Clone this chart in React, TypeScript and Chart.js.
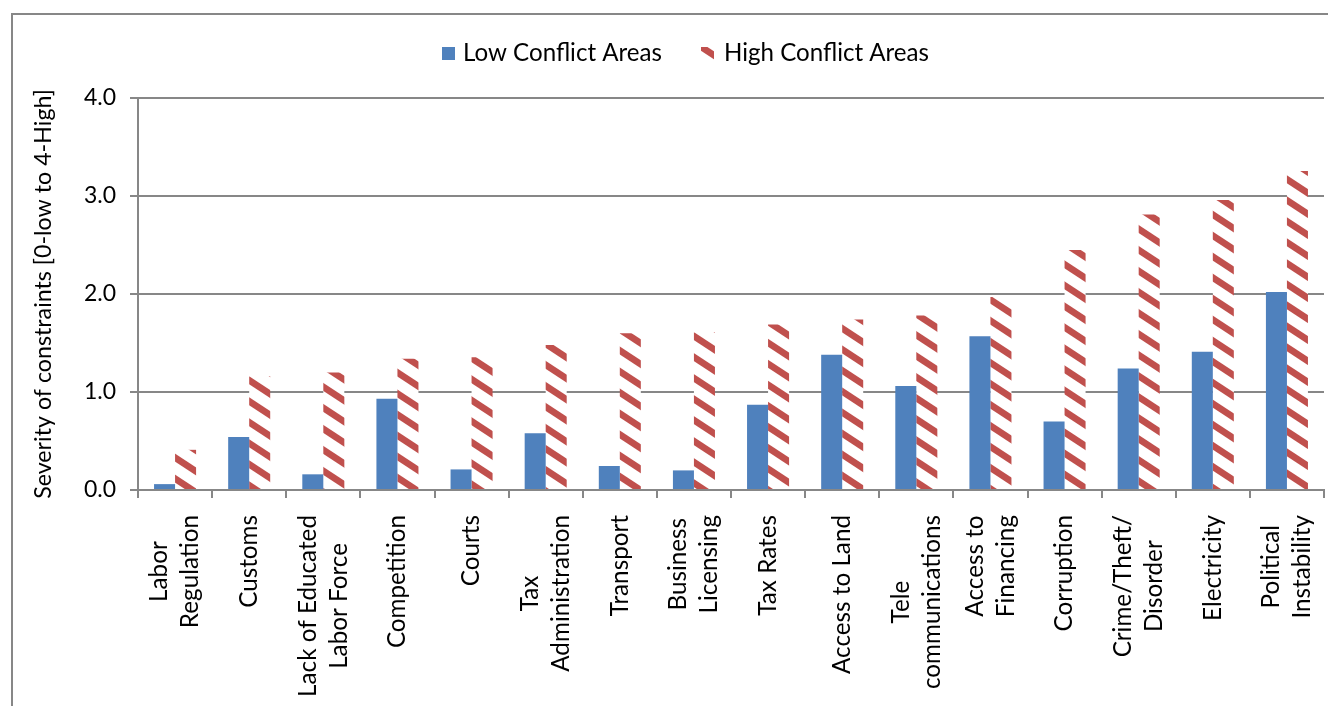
import React, { useEffect, useRef } from "react";
import { Chart, registerables } from "chart.js";

Chart.register(...registerables);

// ---- data ----
const categories: string[][] = [
  ["Labor", "Regulation"],
  ["Customs"],
  ["Lack of Educated", "Labor Force"],
  ["Competition"],
  ["Courts"],
  ["Tax", "Administration"],
  ["Transport"],
  ["Business", "Licensing"],
  ["Tax Rates"],
  ["Access to Land"],
  ["Tele", "communications"],
  ["Access to", "Financing"],
  ["Corruption"],
  ["Crime/Theft/", "Disorder"],
  ["Electricity"],
  ["Political", "Instability"],
];
const lowConflict = [0.06, 0.54, 0.16, 0.93, 0.21, 0.58, 0.245, 0.2, 0.87, 1.38, 1.06, 1.57, 0.7, 1.24, 1.41, 2.02];
const highConflict = [0.41, 1.16, 1.2, 1.34, 1.355, 1.48, 1.6, 1.61, 1.69, 1.74, 1.78, 1.97, 2.45, 2.81, 2.96, 3.255];
const seriesNames = ["Low Conflict Areas", "High Conflict Areas"];
const yTickLabels = ["0.0", "1.0", "2.0", "3.0", "4.0"];
const yAxisTitle = "Severity of constraints [0-low to 4-High]";

// ---- style ----
const BLUE = "#4F81BD";
const RED = "#C0504D";
const GRID = "#878787";
const FONT = "Lato";

function makeHatch(): CanvasPattern {
  const c = document.createElement("canvas");
  const w = 32, h = 21, t = 8;
  c.width = w;
  c.height = h;
  const g = c.getContext("2d")!;
  g.fillStyle = "#ffffff";
  g.fillRect(0, 0, w, h);
  g.fillStyle = RED;
  for (const dy of [-2 * h, -h, 0, h]) {
    g.beginPath();
    g.moveTo(0, dy);
    g.lineTo(w, dy + h);
    g.lineTo(w, dy + h + t);
    g.lineTo(0, dy + t);
    g.closePath();
    g.fill();
  }
  return g.createPattern(c, "repeat")!;
}

function fitSize(ctx: CanvasRenderingContext2D, text: string, target: number): number {
  ctx.font = `100px ${FONT}`;
  const w = ctx.measureText(text).width;
  return (100 * target) / w;
}

export default function App() {
  const ref = useRef<HTMLCanvasElement | null>(null);

  useEffect(() => {
    if (!ref.current) return;
    const hatch = makeHatch();

    const decor = {
      id: "decor",
      beforeDraw(chart: any) {
        const ctx = chart.ctx as CanvasRenderingContext2D;
        ctx.save();
        ctx.fillStyle = "#ffffff";
        ctx.fillRect(0, 0, chart.width, chart.height);
        ctx.restore();
      },
      afterDraw(chart: any) {
        const ctx = chart.ctx as CanvasRenderingContext2D;
        const area = chart.chartArea;
        ctx.save();
        // outer border
        ctx.strokeStyle = GRID;
        ctx.lineWidth = 2;
        ctx.strokeRect(4, 6, chart.width + 50, chart.height + 50);

        // legend
        const lf = fitSize(ctx, seriesNames[0], 199);
        ctx.fillStyle = BLUE;
        ctx.fillRect(434, 39, 13, 13);
        ctx.fillStyle = hatch;
        ctx.fillRect(693, 39, 13, 13);
        ctx.font = `${lf}px ${FONT}`;
        ctx.fillStyle = "#000000";
        ctx.textAlign = "left";
        ctx.textBaseline = "alphabetic";
        ctx.fillText(seriesNames[0], 455, 53);
        ctx.fillText(seriesNames[1], 716, 53);

        // y axis title, centred on the plot height
        ctx.save();
        const tf = fitSize(ctx, yAxisTitle, 410);
        ctx.font = `${tf}px ${FONT}`;
        ctx.translate(36, (area.top + area.bottom) / 2);
        ctx.rotate(-Math.PI / 2);
        ctx.textAlign = "center";
        ctx.textBaseline = "middle";
        ctx.fillText(yAxisTitle, 0, 0);
        ctx.restore();

        // category labels
        const xs = chart.scales.x;
        const xf = fitSize(ctx, "Lack of Educated", 182);
        ctx.font = `${xf}px ${FONT}`;
        ctx.textAlign = "center";
        ctx.textBaseline = "middle";
        categories.forEach((lines, i) => {
          const xc = xs.getPixelForValue(i);
          const maxW = Math.max(...lines.map((l) => ctx.measureText(l).width));
          const cy = 507 + maxW / 2;
          lines.forEach((line, j) => {
            const x = xc + (j - (lines.length - 1) / 2) * 31;
            ctx.save();
            ctx.translate(x, cy);
            ctx.rotate(-Math.PI / 2);
            ctx.fillText(line, 0, 0);
            ctx.restore();
          });
        });
        ctx.restore();
      },
    };

    const chart = new Chart(ref.current, {
      type: "bar",
      data: {
        labels: categories.map((c) => c.join(" ")),
        datasets: [
          {
            label: seriesNames[0],
            data: lowConflict,
            backgroundColor: BLUE,
            borderWidth: 0,
            categoryPercentage: 0.567,
            barPercentage: 1,
          },
          {
            label: seriesNames[1],
            data: highConflict,
            backgroundColor: hatch as any,
            borderWidth: 0,
            categoryPercentage: 0.567,
            barPercentage: 1,
          },
        ],
      },
      options: {
        responsive: true,
        maintainAspectRatio: false,
        animation: false,
        layout: { padding: { left: 0, right: 4, top: 90, bottom: 0 } },
        plugins: {
          legend: { display: false },
          tooltip: { enabled: false },
        },
        scales: {
          x: {
            grid: {
              display: true,
              drawOnChartArea: false,
              drawTicks: true,
              tickLength: 8,
              color: GRID,
              lineWidth: 2,
              offset: true,
            },
            border: { display: true, color: GRID, width: 2 },
            ticks: { display: false },
            afterFit: (s: any) => {
              s.height = 216;
            },
          },
          y: {
            min: 0,
            max: 4,
            ticks: {
              stepSize: 1,
              callback: (_v: any, idx: number) => yTickLabels[idx],
              font: { family: FONT, size: 23 },
              color: "#000000",
              padding: 14,
            },
            grid: { color: GRID, lineWidth: 2, tickLength: 8 },
            border: { display: true, color: GRID, width: 2 },
            afterFit: (s: any) => {
              s.width = 130;
            },
          },
        },
      },
      plugins: [decor],
    });

    return () => chart.destroy();
  }, []);

  return (
    <div style={{ position: "relative", width: 1320, height: 698 }}>
      <canvas ref={ref} />
    </div>
  );
}
